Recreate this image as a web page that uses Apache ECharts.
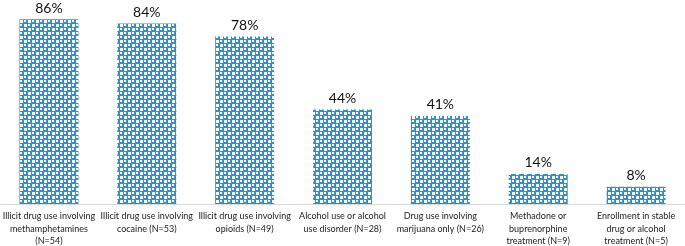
<!DOCTYPE html>
<html>
<head>
<meta charset="utf-8">
<script src="https://cdn.jsdelivr.net/npm/echarts@6/dist/echarts.min.js"></script>
<style>
  html, body { margin: 0; padding: 0; background: #fff; }
  #main { width: 685px; height: 246px; }
</style>
</head>
<body>
<div id="main"></div>
<script>
var categories = [
  'Illicit drug use involving\nmethamphetamines\n(N=54)',
  'Illicit drug use involving\ncocaine (N=53)',
  'Illicit drug use involving\nopioids (N=49)',
  'Alcohol use or alcohol\nuse disorder (N=28)',
  'Drug use involving\nmarijuana only (N=26)',
  'Methadone or\nbuprenorphine\ntreatment (N=9)',
  'Enrollment in stable\ndrug or alcohol\ntreatment (N=5)'
];
var percents = [86, 84, 78, 44, 41, 14, 8];

// blue cross pattern fill
var tile = document.createElement('canvas');
tile.width = 8;
tile.height = 8;
var ctx = tile.getContext('2d');
ctx.fillStyle = '#2196d3';
ctx.fillRect(0, 0, 8, 8);
ctx.fillStyle = '#ffffff';
ctx.fillRect(0, 0, 3, 3);
ctx.fillRect(4, 4, 3, 3);
ctx.fillRect(4, 0, 2, 2);
ctx.fillRect(0, 4, 2, 2);

var chartDom = document.getElementById('main');
var myChart = echarts.init(chartDom);
var option;

option = {
  animation: false,
  grid: {
    left: 0,
    right: 0,
    top: 0,
    bottom: 42,
    outerBoundsMode: 'none'
  },
  xAxis: {
    type: 'category',
    data: categories,
    axisTick: { show: false },
    axisLine: { lineStyle: { color: '#d9d9d9', width: 1 } },
    axisLabel: {
      interval: 0,
      hideOverlap: false,
      margin: 6,
      color: '#222',
      fontFamily: 'Lato',
      fontSize: 9,
      lineHeight: 12.5
    }
  },
  yAxis: {
    type: 'value',
    min: 0,
    max: 95,
    show: false
  },
  series: [
    {
      type: 'bar',
      data: percents,
      barWidth: 59,
      itemStyle: {
        color: { image: tile, repeat: 'repeat' }
      },
      label: {
        show: true,
        position: 'top',
        distance: 4,
        formatter: '{c}%',
        color: '#111',
        fontFamily: 'Lato',
        fontSize: 14
      }
    }
  ]
};

option && myChart.setOption(option);
</script>
</body>
</html>
